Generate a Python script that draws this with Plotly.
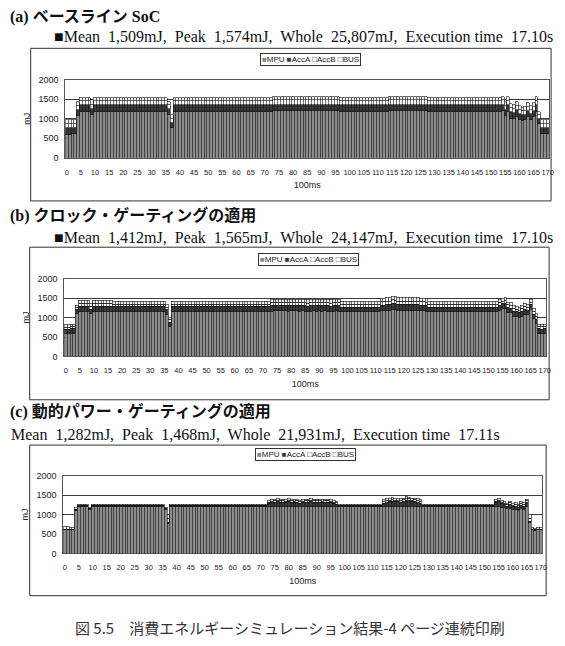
import plotly.graph_objects as go

W, H = 565, 646

# ---------------- data (mJ per 100 ms interval) ----------------
x_idx = list(range(171))
x_ticks = list(range(0, 171, 5))
y_ticks = [0, 500, 1000, 1500, 2000]
series_names = ["MPU", "AccA", "AccB", "BUS"]

# (a) baseline SoC
mpu_a = ([590, 590, 600, 600] + [1070] + [1180]*4 + [1100] + [1180]*26 + [1100, 760]
         + [1180]*35 + [1195]*24 + [1180]*17 + [1195]*14 + [1180]*26
         + [1195, 1070, 1190, 1010, 1000, 1060, 970, 950, 960, 1040, 980, 1040, 1185, 870, 600, 600, 600])
acca_a = ([170]*4 + [150] + [170]*4 + [160] + [170]*26 + [160, 145]
          + [170]*35 + [175]*24 + [170]*17 + [175]*14 + [170]*26
          + [175, 160, 175, 160, 160, 160, 155, 150, 150, 160, 155, 160, 175, 140, 170, 170, 170])
accb_a = ([105]*4 + [110] + [100]*4 + [110] + [100]*26 + [90, 95]
          + [100]*35 + [103]*24 + [100]*17 + [103]*14 + [100]*26
          + [103, 100, 100, 105, 105, 105, 105, 95, 100, 100, 100, 110, 105, 90, 95, 95, 95])
bus_a = ([100]*4 + [100] + [95]*4 + [105] + [95]*26 + [90, 95]
         + [95]*35 + [100]*24 + [95]*17 + [100]*14 + [95]*26
         + [100, 100, 95, 105, 105, 105, 100, 95, 100, 100, 95, 110, 100, 80, 95, 95, 95])

# (b) clock gating
mpu_b = ([575, 575, 590, 590] + [1090] + [1155]*4 + [1090] + [1155]*7 + [1145]*19 + [1075, 760]
         + [1145]*35
         + [1160, 1165, 1170, 1165, 1170, 1165, 1160, 1165, 1170, 1165, 1160, 1165, 1160,
            1155, 1160, 1165, 1160, 1165, 1160, 1165, 1160, 1155, 1160, 1165, 1160]
         + [1140]*14
         + [1165, 1170, 1175, 1180, 1215, 1210, 1180, 1185, 1180, 1175, 1180, 1175, 1180, 1175, 1170, 1165, 1160]
         + [1140]*25
         + [1185, 1225, 1235, 1125, 1115, 1035, 1015, 995, 1035, 1085, 1065, 1195, 965, 835, 590, 580, 590])
acca_b = ([120]*4 + [120] + [125]*4 + [120] + [125]*7 + [125]*19 + [120, 120]
          + [125]*35 + [135]*25 + [125]*14 + [145]*17 + [125]*25
          + [125]*12 + [120, 120, 120, 120, 120])
accb_b = ([55, 55, 60, 60] + [50] + [75]*4 + [70] + [75]*7 + [70]*19 + [65, 60]
          + [70]*35 + [80]*25 + [70]*14 + [90]*17 + [70]*25
          + [70]*12 + [75, 75, 60, 60, 60])
bus_b = ([55, 55, 60, 60] + [50] + [75]*4 + [70] + [75]*7 + [70]*19 + [65, 60]
         + [70]*35 + [80]*25 + [70]*14 + [90]*17 + [70]*25
         + [70]*12 + [75, 75, 60, 60, 60])

# (c) power gating
mpu_c = ([600, 600, 600, 600] + [1100] + [1215]*4 + [1130] + [1215]*26 + [1120, 760]
         + [1215]*35 + [1215]*25 + [1215]*16 + [1215]*14 + [1215]*26
         + [1215, 1215, 1190, 1170, 1140, 1160, 1120, 1130, 1100, 1150, 1130, 1200, 800, 600, 590, 600, 600])
acca_c = ([20]*4 + [20] + [10]*4 + [15] + [10]*26 + [20, 20]
          + [10]*35
          + [60, 80, 100, 110, 95, 100, 85, 110, 90, 80, 95, 70, 85, 100, 90, 110, 95, 90,
             100, 85, 95, 90, 80, 60, 40]
          + [10]*16
          + [70, 95, 110, 120, 105, 110, 100, 115, 150, 140, 110, 115, 100, 75]
          + [10]*26
          + [85, 110, 80, 80, 70, 90, 80, 85, 80, 90, 80, 100, 20, 20, 20, 20, 20])
accb_c = ([0]*4 + [10] + [5]*4 + [5] + [5]*26 + [10, 120]
          + [5]*35 + [40]*25 + [5]*16 + [45]*8 + [50] + [45]*5 + [5]*26
          + [40, 45, 40, 40, 40, 45, 40, 42, 40, 45, 45, 45, 80, 0, 0, 0, 0])
bus_c = ([70, 70, 40, 40] + [40] + [20]*4 + [20] + [20]*26 + [20, 100]
         + [20]*35 + [40]*25 + [20]*16 + [45]*8 + [50] + [45]*5 + [20]*26
         + [40, 50, 40, 40, 40, 45, 40, 43, 40, 45, 45, 45, 100, 40, 40, 40, 40])

titles = ["(a) ベースライン SoC", "(b) クロック・ゲーティングの適用", "(c) 動的パワー・ゲーティングの適用"]
subtitles = ["■Mean  1,509mJ,  Peak  1,574mJ,  Whole  25,807mJ,  Execution time  17.10s",
             "■Mean  1,412mJ,  Peak  1,565mJ,  Whole  24,147mJ,  Execution time  17.10s",
             "Mean  1,282mJ,  Peak  1,468mJ,  Whole  21,931mJ,  Execution time  17.11s"]
caption = "図 5.5　消費エネルギーシミュレーション結果-4 ページ連続印刷"

data_sets = [(mpu_a, acca_a, accb_a, bus_a), (mpu_b, acca_b, accb_b, bus_b), (mpu_c, acca_c, accb_c, bus_c)]

# ---------------- styling / layout (pixels) ----------------
colors = ["#8c8c8c", "#3a3a3a", "#ffffff", "#f2f2f2"]
PLOT_BG = "#bebebe"
NARROW = "Liberation Sans Narrow, Liberation Sans, Arial, sans-serif"
SERIF = "Liberation Serif, Times New Roman, Noto Sans CJK JP, serif"

# plot areas: (left, right, top, bottom) in px
plot_px = [(65, 554, 76, 155), (64, 551, 278, 357), (63, 547, 478, 557)]
box_px = [(30, 556, 44, 199), (29, 554, 246, 401), (29, 551, 447, 600)]
title_y = [12, 214, 413]
sub_y = [32, 236, 436]
sub_x = [52, 52, 8]
legend_y = [55, 258, 457]


def px(x):
    return x / W


def py(y):
    return 1 - y / H


fig = go.Figure()

for k, ds in enumerate(data_sets):
    xa = "x" if k == 0 else f"x{k+1}"
    ya = "y" if k == 0 else f"y{k+1}"
    for name, vals, col in zip(series_names, ds, colors):
        fig.add_trace(go.Bar(
            x=x_idx, y=vals, name=name, xaxis=xa, yaxis=ya,
            marker=dict(color=col, line=dict(color="#111111", width=0.6)),
            showlegend=False, hoverinfo="skip"))

shapes = []
annotations = []
for k in range(3):
    l, r, t, b = plot_px[k]
    xkey = "xaxis" if k == 0 else f"xaxis{k+1}"
    ykey = "yaxis" if k == 0 else f"yaxis{k+1}"
    yanchor = "y" if k == 0 else f"y{k+1}"
    xanchor = "x" if k == 0 else f"x{k+1}"
    fig.layout[xkey] = dict(
        domain=[px(l), px(r)], anchor=yanchor, range=[-0.5, 170.5],
        tickmode="array", tickvals=x_ticks, ticktext=[str(v) for v in x_ticks],
        tickfont=dict(family=NARROW, size=7.5, color="#222"), ticks="", tickangle=0,
        showgrid=False, zeroline=False, showline=True, linecolor="#555", mirror=True,
        title=dict(text="100ms", font=dict(family=NARROW, size=9, color="#222"), standoff=6),
        ticklabelstandoff=7,
    )
    fig.layout[ykey] = dict(
        domain=[py(b), py(t)], anchor=xanchor, range=[0, 2000],
        tickmode="array", tickvals=y_ticks,
        tickfont=dict(family=NARROW, size=9, color="#222"), ticks="",
        showgrid=True, gridcolor="#3a3a3a", gridwidth=1, zeroline=False,
        showline=True, linecolor="#555", mirror=True,
        title=dict(text="mJ", font=dict(family=NARROW, size=9, color="#222"), standoff=6),
        ticklabelstandoff=4,
    )
    bl, br, bt, bb = box_px[k]
    shapes.append(dict(type="rect", xref="paper", yref="paper", layer="below",
                       x0=px(bl), x1=px(br), y0=py(bb), y1=py(bt),
                       line=dict(color="#333", width=1), fillcolor="white"))
    annotations.append(dict(text=titles[k], xref="paper", yref="paper", x=px(7), y=py(title_y[k]),
                            xanchor="left", yanchor="middle", showarrow=False,
                            font=dict(family=SERIF, size=16, color="#111", weight="bold")))
    annotations.append(dict(text=subtitles[k], xref="paper", yref="paper", x=px(sub_x[k]), y=py(sub_y[k]),
                            xanchor="left", yanchor="middle", showarrow=False,
                            font=dict(family=SERIF, size=16, color="#111")))
    leg = ("<span style='color:#8c8c8c'>■</span>MPU <span style='color:#3a3a3a'>■</span>AccA "
           "□AccB □BUS")
    annotations.append(dict(text=leg, xref="paper", yref="paper", x=px((l + r) / 2 + 3), y=py(legend_y[k]),
                            xanchor="center", yanchor="middle", showarrow=False,
                            bordercolor="#333", borderwidth=1, borderpad=1, bgcolor="white",
                            font=dict(family=NARROW, size=8, color="#222")))

annotations.append(dict(text=caption, xref="paper", yref="paper", x=px(292), y=py(632),
                        xanchor="center", yanchor="middle", showarrow=False,
                        font=dict(family="Noto Sans CJK JP, sans-serif", size=15, color="#333")))

fig.update_layout(
    width=W, height=H, autosize=False,
    margin=dict(l=0, r=0, t=0, b=0),
    paper_bgcolor="white", plot_bgcolor=PLOT_BG,
    barmode="stack", bargap=0,
    shapes=shapes, annotations=annotations,
    showlegend=False,
)

fig.write_html("out.html")
